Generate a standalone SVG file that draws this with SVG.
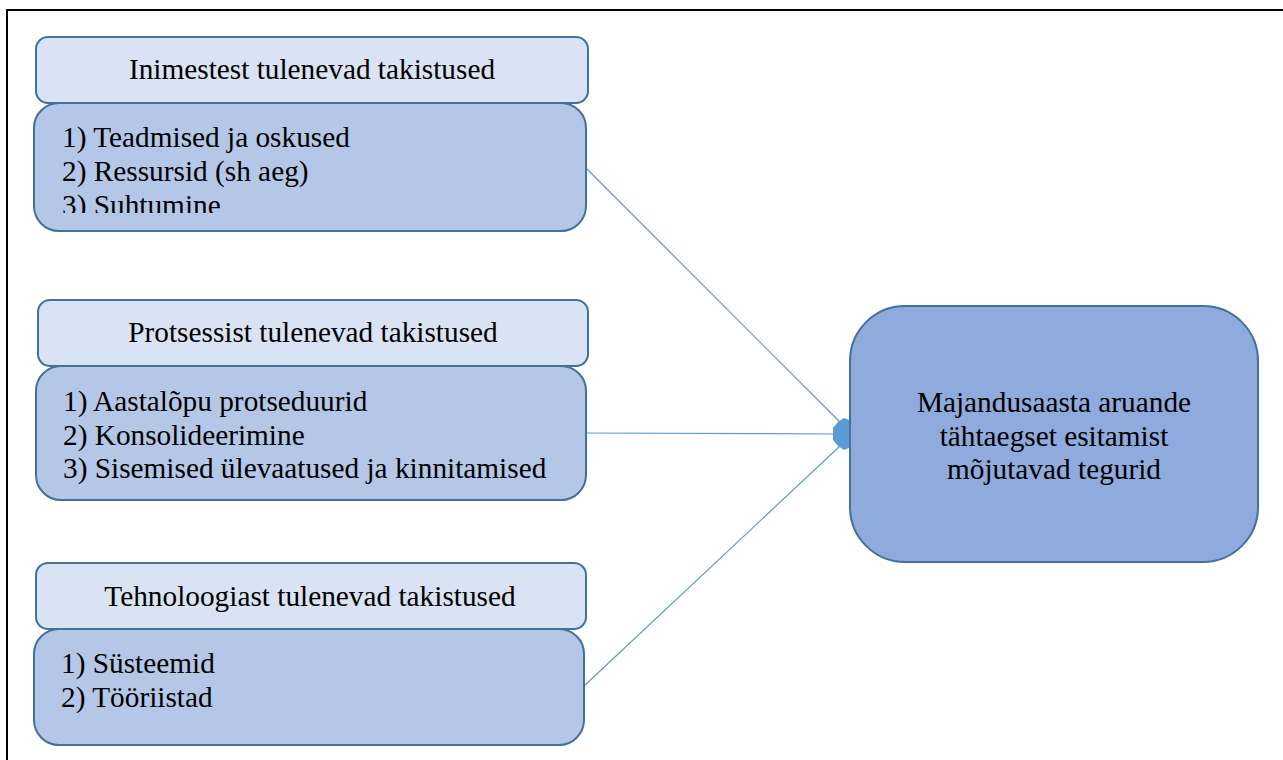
<svg xmlns="http://www.w3.org/2000/svg" width="1283" height="760" viewBox="0 0 1283 760">
<style>
.hd{fill:#dae3f3;stroke:#41719c;stroke-width:2}
.bd{fill:#b4c7e7;stroke:#41719c;stroke-width:2}
.tg{fill:#8faadc;stroke:#41719c;stroke-width:2}
.t{font-family:"Liberation Serif","Times New Roman",serif;font-size:29.3px;fill:#000}
.c{text-anchor:middle}
.ln{stroke:#5b9bd5;stroke-width:1.2;fill:none}
</style>
<defs>
<clipPath id="clip1"><rect x="34" y="103" width="552" height="110"/></clipPath>
</defs>
<rect x="7" y="10" width="1300" height="780" fill="#fff" stroke="#000" stroke-width="2"/>
<g id="connectors">
<line class="ln" x1="586" y1="168" x2="840" y2="422"/>
<line class="ln" x1="586" y1="433" x2="836" y2="434"/>
<line class="ln" x1="584" y1="686" x2="840" y2="446"/>
<polygon points="838,422 844,418 849,420 849,448 844,450 838,446 833,440 833,428" fill="#5b9bd5"/>
</g>
<g id="people">
<rect class="hd" x="36" y="37" width="552" height="66" rx="12"/>
<text class="t c" x="312" y="79">Inimestest tulenevad takistused</text>
<rect class="bd" x="34" y="103" width="552" height="128" rx="25"/>
<g clip-path="url(#clip1)">
<text class="t" x="62" y="147">1) Teadmised ja oskused</text>
<text class="t" x="62" y="181">2) Ressursid (sh aeg)</text>
<text class="t" x="62" y="215">3) Suhtumine</text>
</g>
</g>
<g id="process">
<rect class="hd" x="38" y="300" width="550" height="66" rx="12"/>
<text class="t c" x="313" y="342">Protsessist tulenevad takistused</text>
<rect class="bd" x="36" y="366" width="550" height="134" rx="25"/>
<text class="t" x="63" y="411">1) Aastalõpu protseduurid</text>
<text class="t" x="63" y="445">2) Konsolideerimine</text>
<text class="t" x="63" y="478">3) Sisemised ülevaatused ja kinnitamised</text>
</g>
<g id="technology">
<rect class="hd" x="36" y="563" width="550" height="66" rx="12"/>
<text class="t c" x="310" y="606">Tehnoloogiast tulenevad takistused</text>
<rect class="bd" x="34" y="629" width="550" height="116" rx="25"/>
<text class="t" x="61" y="673">1) Süsteemid</text>
<text class="t" x="61" y="707">2) Tööriistad</text>
</g>
<g id="target">
<rect class="tg" x="850" y="306" width="408" height="256" rx="55"/>
<text class="t c" x="1054" y="412">Majandusaasta aruande</text>
<text class="t c" x="1054" y="446">tähtaegset esitamist</text>
<text class="t c" x="1054" y="479">mõjutavad tegurid</text>
</g>
</svg>
